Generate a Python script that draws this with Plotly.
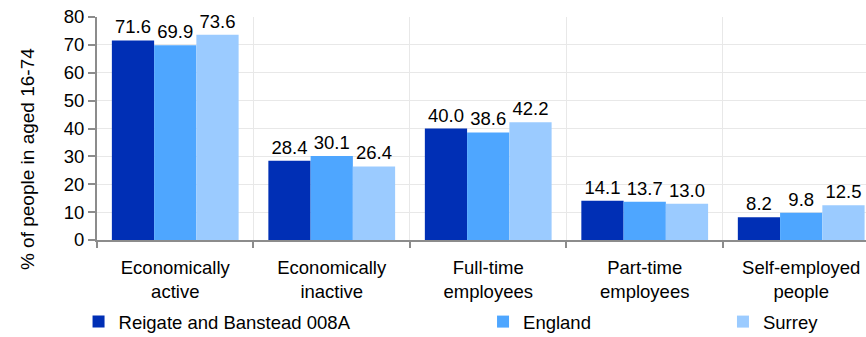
import plotly.graph_objects as go

categories = ["Economically<br>active", "Economically<br>inactive", "Full-time<br>employees",
              "Part-time<br>employees", "Self-employed<br>people"]
reigate = [71.6, 28.4, 40.0, 14.1, 8.2]
england = [69.9, 30.1, 38.6, 13.7, 9.8]
surrey = [73.6, 26.4, 42.2, 13.0, 12.5]
series_names = ["Reigate and Banstead 008A", "England", "Surrey"]
colors = ["#002fb5", "#4ea6ff", "#9bcbff"]
y_ticks = [0, 10, 20, 30, 40, 50, 60, 70, 80]

FONT = "Liberation Sans, Arial, sans-serif"
FS = 18.5
fig = go.Figure()
legend_ids = ["legend", "legend2", "legend3"]
for name, vals, col, lg in zip(series_names, [reigate, england, surrey], colors, legend_ids):
    fig.add_trace(go.Bar(
        x=categories, y=vals, name=name, marker=dict(color=col, line=dict(width=0)),
        texttemplate="%{y:.1f}", textposition="outside", cliponaxis=False,
        textfont=dict(size=FS, color="#000000", family=FONT),
        legend=lg,
    ))

leg_common = dict(orientation="h", yanchor="middle", y=-0.368, xanchor="left",
                  font=dict(size=FS, color="#000000", family=FONT),
                  bgcolor="rgba(0,0,0,0)", itemclick=False, itemdoubleclick=False)
fig.update_layout(
    width=866, height=337,
    margin=dict(l=97, r=0, t=17, b=97, autoexpand=False),
    paper_bgcolor="white", plot_bgcolor="white",
    font=dict(family=FONT, size=FS, color="#000000"),
    barmode="group", bargap=0.19, bargroupgap=0,
    showlegend=True,
    legend=dict(x=-0.024, **leg_common),
    legend2=dict(x=0.502, **leg_common),
    legend3=dict(x=0.814, **leg_common),
    xaxis=dict(type="category", range=[-0.5, 4.414], tickson="boundaries",
               showgrid=True, gridcolor="#e8e8e8", gridwidth=1,
               showline=True, linecolor="#8c8c8c", linewidth=2,
               ticks="outside", ticklen=6, tickcolor="#8c8c8c", tickwidth=2,
               ticklabelstandoff=10, automargin=False,
               tickfont=dict(size=FS, color="#000000", family=FONT)),
    yaxis=dict(range=[0, 80], tickvals=y_ticks, showgrid=True, gridcolor="#e8e8e8",
               gridwidth=1, showline=True, linecolor="#8c8c8c", linewidth=2,
               ticks="outside", ticklen=7, tickcolor="#8c8c8c", tickwidth=2,
               zeroline=False, automargin=False, ticklabeloverflow="allow",
               tickfont=dict(size=FS, color="#000000", family=FONT)),
    annotations=[dict(text="% of people in aged 16-74", textangle=-90,
                      xref="paper", yref="paper", x=-0.091, y=0.363,
                      xanchor="center", yanchor="middle", showarrow=False,
                      font=dict(size=19, color="#000000", family=FONT))],
)
fig.write_html(
    "out.html",
    config={"displayModeBar": False},
    post_script="document.body.style.margin='0';document.documentElement.style.overflow='hidden';",
)
